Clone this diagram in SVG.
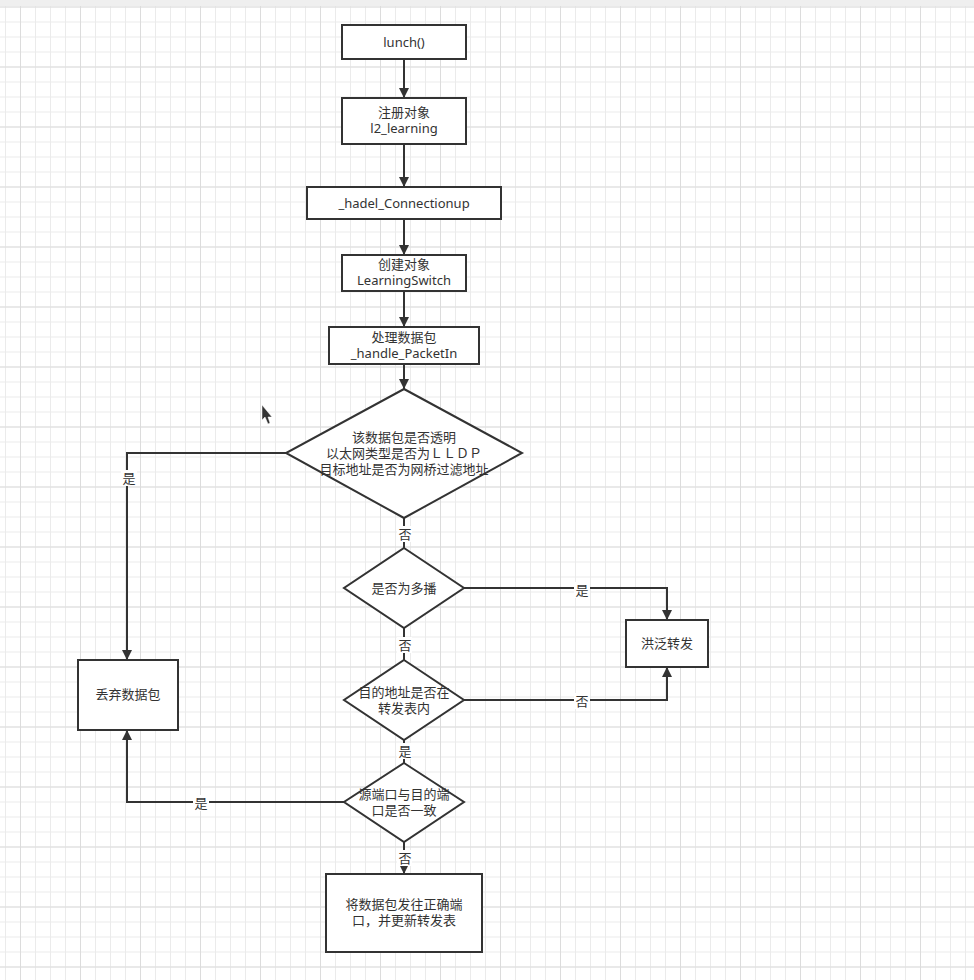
<svg xmlns="http://www.w3.org/2000/svg" width="974" height="980" viewBox="0 0 974 980">
<defs>
<pattern id="gs" width="15" height="15" patternUnits="userSpaceOnUse" x="5" y="6.5">
<path d="M0 0.5H15M0.5 0V15" fill="none" stroke="#ebebeb" stroke-width="1"/>
</pattern>
<pattern id="gl" width="60" height="60" patternUnits="userSpaceOnUse" x="20" y="6.5">
<path d="M0 0.5H60M0.5 0V60" fill="none" stroke="#dcdcdc" stroke-width="1"/>
</pattern>
<marker id="ah" viewBox="0 0 10 10" refX="10" refY="5" markerWidth="5" markerHeight="5" orient="auto" markerUnits="strokeWidth">
<path d="M0 0L10 5L0 10Z" fill="#333"/>
</marker>
<style>
.n{fill:#fff;stroke:#333;stroke-width:2}
.e{fill:none;stroke:#333;stroke-width:2}
.t{font-family:"Noto Sans","Noto Sans CJK SC",sans-serif;font-size:13px;fill:#333;text-anchor:middle}
.lb{fill:#fff}
</style>
</defs>
<rect width="974" height="980" fill="#fff"/>
<rect width="974" height="980" fill="url(#gs)"/>
<rect width="974" height="980" fill="url(#gl)"/>
<rect width="974" height="6" fill="#efefef"/>
<g id="connectors">
<path class="e" d="M404 59V98" marker-end="url(#ah)"/>
<path class="e" d="M404 144V187" marker-end="url(#ah)"/>
<path class="e" d="M404 219V255" marker-end="url(#ah)"/>
<path class="e" d="M404 291V327" marker-end="url(#ah)"/>
<path class="e" d="M404 364V389" marker-end="url(#ah)"/>
<path class="e" d="M404 518V548"/>
<path class="e" d="M404 628V660"/>
<path class="e" d="M404 740V763"/>
<path class="e" d="M404 842V874" marker-end="url(#ah)"/>
<path class="e" d="M286 453H127V660" marker-end="url(#ah)"/>
<path class="e" d="M464 588H667V620" marker-end="url(#ah)"/>
<path class="e" d="M464 700H667V667" marker-end="url(#ah)"/>
<path class="e" d="M344 802H127V730" marker-end="url(#ah)"/>
<rect class="lb" x="397" y="526" width="15" height="16"/>
<text class="t" x="405" y="539">否</text>
<rect class="lb" x="397" y="637" width="15" height="16"/>
<text class="t" x="405" y="650">否</text>
<rect class="lb" x="397" y="743" width="15" height="16"/>
<text class="t" x="405" y="756">是</text>
<rect class="lb" x="397" y="850" width="15" height="16"/>
<text class="t" x="405" y="863">否</text>
<rect class="lb" x="121" y="470" width="16" height="16"/>
<text class="t" x="129" y="483">是</text>
<rect class="lb" x="574" y="582" width="16" height="16"/>
<text class="t" x="582" y="595">是</text>
<rect class="lb" x="574" y="693" width="16" height="16"/>
<text class="t" x="582" y="706">否</text>
<rect class="lb" x="193" y="795" width="16" height="16"/>
<text class="t" x="201" y="808">是</text>
</g>
<g id="n1"><rect class="n" x="342" y="25" width="124" height="34"/><text class="t" x="404" y="47">lunch()</text></g>
<g id="n2"><rect class="n" x="342" y="98" width="124" height="46"/><text class="t" x="404" y="117">注册对象</text><text class="t" x="404" y="133">l2_learning</text></g>
<g id="n3"><rect class="n" x="307" y="187" width="194" height="32"/><text class="t" x="404" y="208">_hadel_Connectionup</text></g>
<g id="n4"><rect class="n" x="342" y="255" width="124" height="36"/><text class="t" x="404" y="269">创建对象</text><text class="t" x="404" y="285">LearningSwitch</text></g>
<g id="n5"><rect class="n" x="329" y="327" width="150" height="37"/><text class="t" x="404" y="342">处理数据包</text><text class="t" x="404" y="358">_handle_PacketIn</text></g>
<g id="d1"><path class="n" d="M404 389L522 453L404 518L286 453Z"/><text class="t" x="404" y="442">该数据包是否透明</text><text class="t" x="404" y="458">以太网类型是否为ＬＬＤＰ</text><text class="t" x="404" y="474">目标地址是否为网桥过滤地址</text></g>
<g id="d2"><path class="n" d="M404 548L464 588L404 628L344 588Z"/><text class="t" x="404" y="593">是否为多播</text></g>
<g id="d3"><path class="n" d="M404 660L464 700L404 740L344 700Z"/><text class="t" x="404" y="697">目的地址是否在</text><text class="t" x="404" y="713">转发表内</text></g>
<g id="d4"><path class="n" d="M404 763L464 802L404 842L344 802Z"/><text class="t" x="404" y="799">源端口与目的端</text><text class="t" x="404" y="815">口是否一致</text></g>
<g id="n6"><rect class="n" x="626" y="620" width="82" height="47"/><text class="t" x="667" y="648">洪泛转发</text></g>
<g id="n7"><rect class="n" x="78" y="660" width="100" height="70"/><text class="t" x="128" y="699">丢弃数据包</text></g>
<g id="n8"><rect class="n" x="326" y="874" width="156" height="78"/><text class="t" x="404" y="909">将数据包发往正确端</text><text class="t" x="404" y="925">口，并更新转发表</text></g>
<path d="M262 405V420L265 417L268 424L270 423L268 417L272 417Z" fill="#333" stroke="#fff" stroke-width="0.5"/>
</svg>
